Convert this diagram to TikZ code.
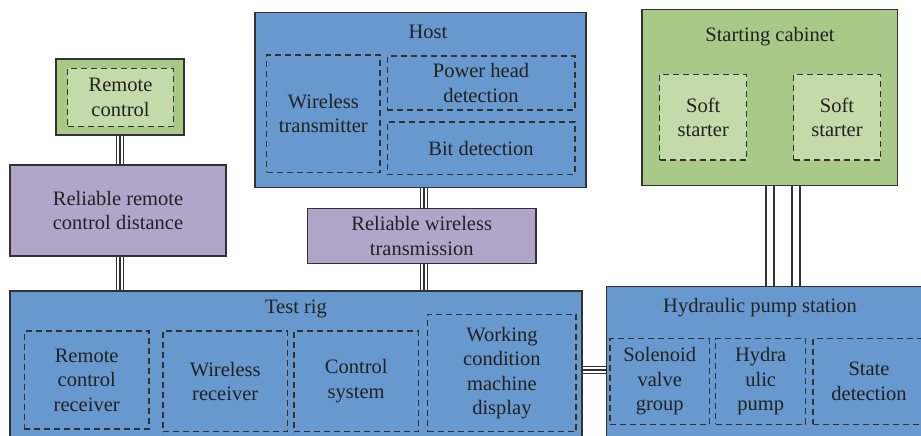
\documentclass[tikz,border=0pt]{standalone}
\usepackage{fontspec}
\setmainfont{Liberation Serif}
\usetikzlibrary{backgrounds}
\definecolor{boxblue}{RGB}{103,152,206}
\definecolor{cabgreen}{RGB}{169,201,136}
\definecolor{softgreen}{RGB}{196,218,169}
\definecolor{lilac}{RGB}{177,166,202}
\definecolor{edge}{RGB}{50,50,50}
\definecolor{txt}{RGB}{34,34,34}
\begin{document}
\begin{tikzpicture}[x=1pt,y=-1pt,
  font=\fontsize{20.5}{24.5}\selectfont,
  every node/.style={inner sep=0pt, text=txt, align=center},
  frame/.style={draw=edge, line width=1.3pt, rectangle},
  sysblue/.style={frame, fill=boxblue},
  sysgreen/.style={frame, fill=cabgreen},
  syslilac/.style={frame, fill=lilac},
  dbox/.style={draw=edge, line width=1.3pt, dash pattern=on 6pt off 4pt},
  dgreen/.style={dbox, fill=softgreen},
  link/.style={draw=edge, line width=8.5pt,
    postaction={draw=white, line width=2pt, double=edge, double distance=1.5pt}},
  duo/.style={draw=edge, line width=1.5pt, double=white, double distance=6.5pt}
]
\useasboundingbox (0,0) rectangle (921,436);
\clip (0,0) rectangle (921,436);

% remote control
\node[sysgreen, minimum width=128, minimum height=76] (rcbox) at (120,97) {};
\node[dgreen, minimum width=105.6, minimum height=58.4] (rc) at (120.5,97.5) {Remote\\control};

% reliable remote control distance
\node[syslilac, minimum width=216, minimum height=91] (rel1) at (118,210.5) {Reliable remote\\control distance};

% host
\node[sysblue, minimum width=331, minimum height=175.4] (host) at (420.5,100) {};
\node (hostt) at (428,32) {Host};
\node[dbox, minimum width=113.3, minimum height=117.3] (wt) at (323.3,113.7) {Wireless\\transmitter};
\node[dbox, minimum width=187.7, minimum height=54] (phd) at (481,83) {Power head\\detection};
\node[dbox, minimum width=187.7, minimum height=52.3] (bd) at (481,148) {Bit detection};

% reliable wireless transmission
\node[syslilac, minimum width=228.7, minimum height=55] (rel2) at (421.7,235.8) {Reliable wireless\\transmission};

% starting cabinet
\node[sysgreen, minimum width=255.7, minimum height=176] (sc) at (769.8,97.3) {};
\node (sct) at (770,37) {Starting cabinet};
\node[dgreen, minimum width=87, minimum height=85.7] (ss1) at (703.2,117.2) {Soft\\starter};
\node[dgreen, minimum width=87, minimum height=85.7] (ss2) at (837,117.2) {Soft\\starter};

% test rig
\node[sysblue, minimum width=572, minimum height=149] (rig) at (296,365.5) {};
\node (rigt) at (296,309) {Test rig};
\node[dbox, minimum width=124.7, minimum height=98] (rcr) at (86.7,380) {Remote\\control\\receiver};
\node[dbox, minimum width=124.3, minimum height=100.7] (wr) at (225.2,381.3) {Wireless\\receiver};
\node[dbox, minimum width=124.3, minimum height=100.7] (cs) at (356.2,381.3) {Control\\system};
\node[dbox, minimum width=148.3, minimum height=117.4] (wcmd) at (501.9,373) {Working\\condition\\machine\\display};

% hydraulic pump station
\node[sysblue, minimum width=323.3, minimum height=153.3] (hps) at (768.3,363.3) {};
\node (hpst) at (760,308) {Hydraulic pump station};
\node[dbox, minimum width=99.3, minimum height=85.6] (svg) at (659.7,381.5) {Solenoid\\valve\\group};
\node[dbox, minimum width=90, minimum height=85.6] (hp) at (760.7,381.5) {Hydra\\ulic\\pump};
\node[dbox, minimum width=112, minimum height=85.6] (sd) at (869,381.5) {State\\detection};

% connectors
\begin{scope}[on background layer]
  \coordinate (xa) at (120,0);
  \coordinate (xb) at (424,0);
  \coordinate (xc) at (770,0);
  \coordinate (xd) at (796,0);
  \coordinate (yh) at (0,370);
  \draw[link] (xa |- rcbox.south) -- (xa |- rel1.north);
  \draw[link] (xa |- rel1.south) -- (xa |- rig.north);
  \draw[link] (xb |- host.south) -- (xb |- rel2.north);
  \draw[link] (xb |- rel2.south) -- (xb |- rig.north);
  \draw[duo] (xc |- sc.south) -- (xc |- hps.north);
  \draw[duo] (xd |- sc.south) -- (xd |- hps.north);
  \draw[link] (yh -| rig.east) -- (yh -| hps.west);
\end{scope}
\end{tikzpicture}
\end{document}
